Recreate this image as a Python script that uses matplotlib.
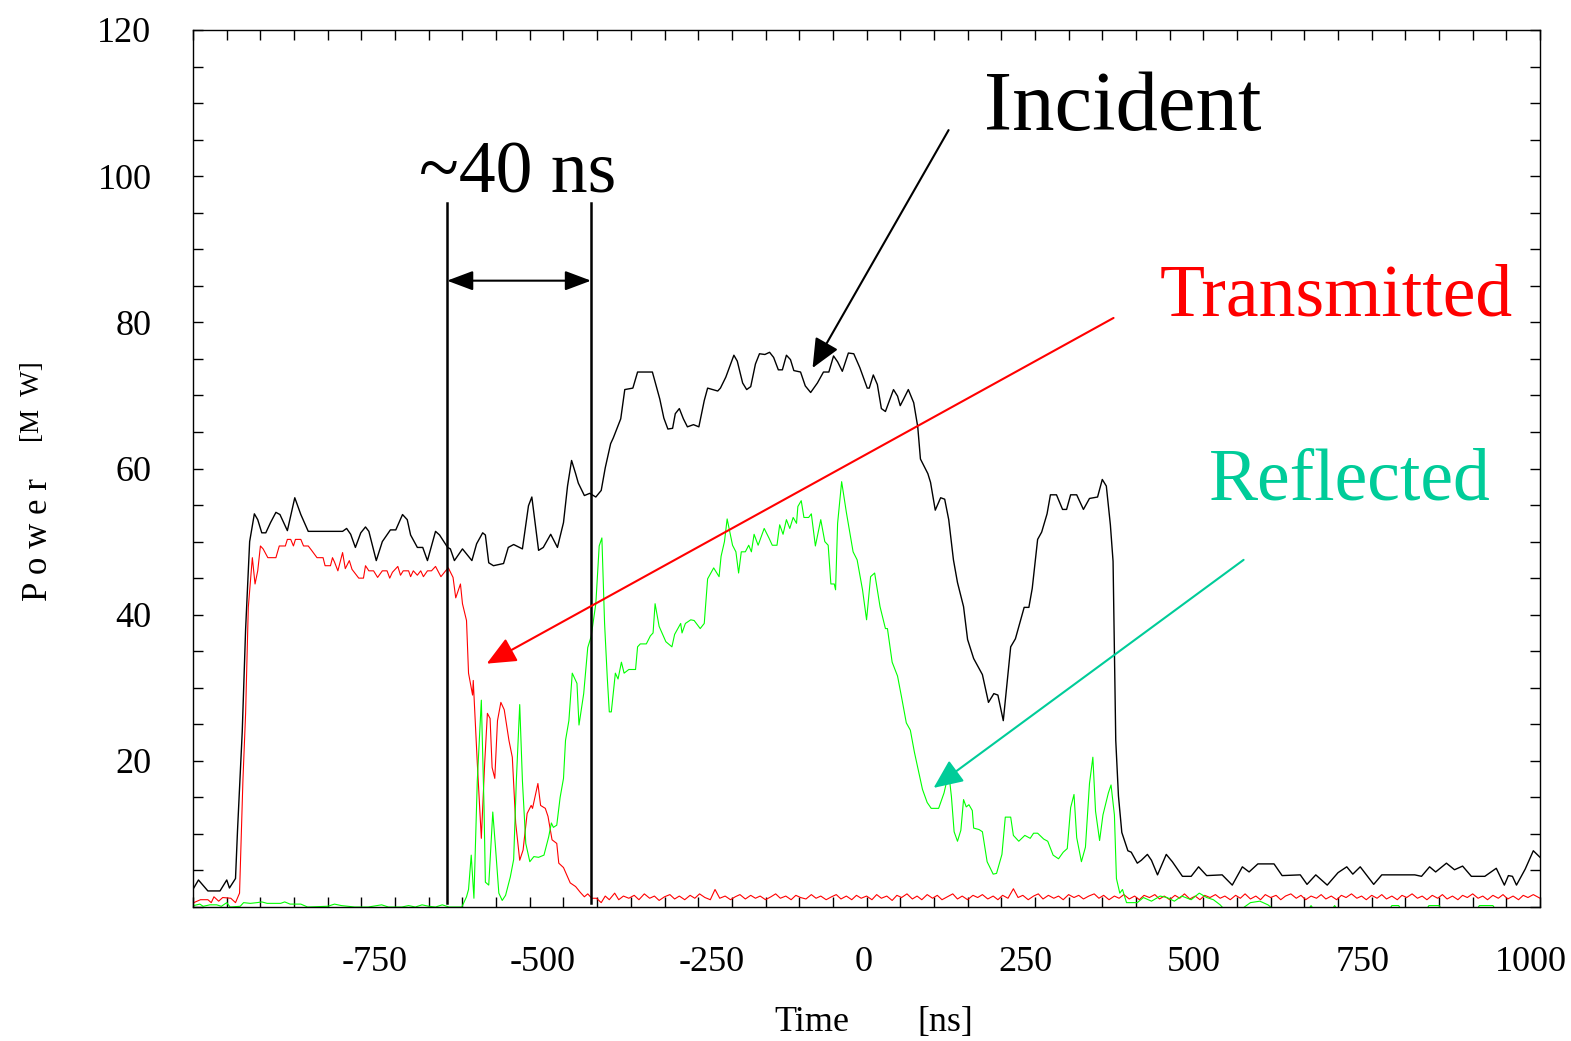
import matplotlib.pyplot as plt
from matplotlib.ticker import MultipleLocator
from matplotlib.transforms import ScaledTranslation

plt.rcParams['font.family'] = ['Liberation Serif', 'DejaVu Serif']
plt.rcParams['axes.unicode_minus'] = False

# (time [ns], power [MW]) vertices of each trace
incident = [
    (-999, 2.6), (-992, 3.7), (-978, 2.2), (-960, 2.2), (-950, 3.7), (-946, 2.6), (-937, 3.9),
    (-934, 10.5), (-927, 24), (-922, 38), (-916, 50), (-909, 53.8), (-904, 53), (-898, 51.2),
    (-892, 51.2), (-885, 52.6), (-877, 54), (-871, 53.7), (-860, 51.5), (-849, 56), (-840, 53.7),
    (-829, 51.4), (-778, 51.4), (-772, 51.8), (-766, 51), (-759, 49.2), (-751, 51.2), (-744, 52),
    (-739, 51.4), (-728, 47.4), (-719, 50), (-707, 51.6), (-699, 51.6), (-689, 53.7), (-682, 53),
    (-677, 50.9), (-667, 49.2), (-659, 49.2), (-652, 47.4), (-640, 51.4), (-634, 50.9), (-622, 49.2),
    (-618, 49), (-612, 47.4), (-600, 49), (-586, 47.4), (-579, 49.7), (-570, 51.2), (-566, 50.9),
    (-561, 47.1), (-554, 46.7), (-539, 47), (-532, 49.2), (-524, 49.6), (-511, 49), (-502, 54.9),
    (-497, 56.1), (-487, 48.8), (-480, 49.2), (-469, 51), (-459, 49.2), (-450, 52.6), (-444, 57.6),
    (-438, 61.1), (-432, 59.3), (-428, 58), (-419, 56.3), (-411, 56.6), (-402, 56.1), (-394, 57),
    (-388, 60.1), (-380, 63.4), (-376, 64.2), (-365, 66.8), (-359, 70.8), (-347, 71), (-340, 73.2),
    (-318, 73.2), (-307, 69.5), (-301, 66.9), (-295, 65.4), (-288, 65.5), (-284, 67.5), (-278, 68.2),
    (-272, 66.8), (-266, 65.7), (-257, 66), (-249, 65.7), (-241, 69.3), (-236, 71), (-221, 70.6),
    (-217, 71), (-209, 72.5), (-197, 75.5), (-192, 74.7), (-184, 71.7), (-178, 70.8), (-172, 71.2),
    (-165, 74.3), (-159, 75.7), (-151, 75.6), (-144, 75.9), (-138, 75.2), (-131, 73.5), (-125, 73.5),
    (-119, 75.5), (-113, 74.9), (-108, 73.4), (-98, 73.2), (-91, 71.3), (-83, 70.4), (-73, 71.7),
    (-64, 73.2), (-56, 73.2), (-49, 75.4), (-43, 74.6), (-36, 73.3), (-27, 75.8), (-19, 75.7),
    (-10, 73.8), (1, 71), (4, 71), (10, 72.8), (16, 71.5), (22, 68.2), (28, 67.8), (40, 70.8),
    (46, 69.9), (50, 68.6), (55, 69.5), (62, 70.8), (70, 69), (76, 65.7), (80, 61.3), (91, 59.3),
    (95, 58.1), (102, 54.3), (110, 56), (116, 55.8), (122, 53), (129, 47.5), (135, 44.4), (144, 41.1),
    (150, 36.6), (159, 34), (172, 31.8), (181, 28), (189, 29.2), (195, 29), (203, 25.5), (214, 35.6),
    (221, 36.7), (228, 39), (234, 41), (241, 41), (246, 43.6), (254, 50.3), (260, 51.3), (268, 53.8),
    (273, 56.4), (282, 56.4), (291, 54.4), (297, 54.4), (303, 56.4), (312, 56.4), (322, 54.4),
    (331, 55.9), (343, 56.1), (350, 58.5), (356, 57.6), (362, 52.3), (366, 47.3), (368, 35.5),
    (370, 22.8), (374, 15.2), (379, 10.2), (388, 7.7), (393, 7.5), (402, 6), (408, 6.4), (417, 7.2),
    (423, 6.4), (432, 4.4), (445, 7.2), (454, 6.2), (469, 4.2), (482, 4.2), (493, 5.5), (505, 4.3),
    (528, 4.4), (543, 3), (558, 5.5), (568, 4.8), (581, 5.9), (605, 5.9), (617, 4.3), (644, 4.4),
    (654, 3.1), (667, 4.4), (684, 3), (700, 4.7), (713, 5.5), (722, 4.5), (733, 5.5), (753, 3.1),
    (765, 4.4), (814, 4.4), (824, 4.2), (836, 5.5), (845, 4.8), (861, 6), (873, 5.1), (885, 5.6),
    (898, 4.2), (918, 4.2), (935, 5.3), (947, 3), (953, 4.3), (959, 4.2), (965, 3), (978, 5.2),
    (990, 7.7), (1000, 6.8),
]

transmitted = [
    (-999, 0.6), (-989, 1.0), (-978, 1.0), (-973, 0.6), (-969, 1.4), (-962, 0.8), (-956, 1.3),
    (-944, 1.2), (-937, 0.6), (-931, 1.9), (-926, 17.3), (-922, 26.5), (-918, 41), (-912, 47.8),
    (-908, 44.2), (-904, 46), (-900, 49.4), (-896, 49), (-889, 47.8), (-877, 47.8), (-872, 49.4),
    (-863, 49.4), (-860, 50.3), (-855, 50.3), (-851, 49.4), (-848, 50.3), (-840, 50.3), (-836, 49.4),
    (-829, 49.4), (-824, 48.8), (-816, 47.8), (-807, 47.8), (-804, 46.7), (-796, 46.7), (-793, 47.8),
    (-790, 47.2), (-785, 46), (-781, 47.4), (-778, 48.5), (-774, 46.3), (-768, 47.4), (-764, 46.2),
    (-754, 45), (-747, 45), (-744, 46.7), (-739, 46), (-732, 46), (-726, 45.1), (-719, 46),
    (-712, 46), (-708, 45), (-704, 45.8), (-696, 46.6), (-692, 45.4), (-688, 46), (-680, 46),
    (-677, 45.2), (-673, 46), (-667, 45.4), (-662, 46), (-658, 45.2), (-652, 46), (-646, 46),
    (-640, 46.6), (-636, 45.9), (-632, 45.2), (-625, 46), (-621, 46.4), (-614, 45.1), (-610, 42.3),
    (-603, 44.2), (-600, 41.5), (-594, 39.2), (-591, 32), (-585, 29), (-584, 31), (-578, 19.7),
    (-572, 9.4), (-567, 19.7), (-563, 26.5), (-559, 25.8), (-556, 19.1), (-552, 17.6), (-548, 25.5),
    (-543, 28), (-538, 27), (-531, 22.8), (-526, 20.5), (-521, 11.5), (-515, 6.4), (-510, 7.8),
    (-504, 12.8), (-498, 13.9), (-496, 13.5), (-488, 16.9), (-484, 13.9), (-477, 13.5), (-473, 12.4),
    (-467, 9.2), (-460, 8.7), (-457, 6), (-450, 5.4), (-440, 3.3), (-432, 2.8), (-425, 2),
    (-419, 1.4), (-414, 1.8), (-408, 1.2), (-401, 1.2), (-394, 0.6), (-388, 1.5), (-382, 1.0),
    (-374, 1.9), (-368, 1.0), (-361, 1.5), (-353, 1.2), (-345, 1.6), (-338, 1.0), (-330, 1.8),
    (-322, 1.2), (-315, 1.5), (-308, 0.9), (-300, 1.4), (-292, 1.7), (-285, 1.1), (-278, 1.5),
    (-270, 1.0), (-262, 1.6), (-255, 1.2), (-248, 1.8), (-240, 1.3), (-232, 1.0), (-225, 2.4),
    (-218, 1.2), (-210, 1.5), (-202, 1.0), (-195, 1.4), (-188, 1.7), (-180, 1.1), (-172, 1.6),
    (-165, 1.2), (-158, 1.5), (-150, 1.0), (-142, 1.4), (-135, 1.8), (-128, 1.2), (-120, 1.5),
    (-112, 1.0), (-105, 1.6), (-98, 1.3), (-90, 1.1), (-82, 1.7), (-75, 1.2), (-68, 1.5), (-60, 1.0),
    (-52, 1.4), (-45, 1.7), (-38, 1.1), (-30, 1.5), (-22, 1.0), (-15, 1.6), (-8, 1.2), (0, 1.5),
    (8, 1.0), (15, 1.7), (22, 1.2), (30, 1.5), (38, 0.9), (45, 1.6), (52, 1.3), (60, 1.8), (68, 1.1),
    (75, 1.5), (82, 1.0), (90, 1.7), (98, 1.2), (105, 1.6), (112, 1.0), (120, 1.4), (128, 1.8),
    (135, 1.1), (142, 1.5), (150, 1.0), (158, 1.6), (165, 1.3), (172, 1.7), (180, 1.1), (188, 1.5),
    (195, 1.0), (202, 1.6), (210, 1.2), (218, 2.5), (225, 1.3), (232, 1.6), (240, 1.0), (248, 1.5),
    (255, 1.8), (262, 1.1), (270, 1.6), (278, 1.2), (285, 1.5), (292, 1.0), (300, 1.7), (308, 1.3),
    (315, 1.6), (322, 1.1), (330, 1.5), (338, 1.8), (345, 1.2), (352, 1.6), (360, 1.0), (368, 1.5),
    (375, 1.2), (382, 1.7), (390, 1.1), (398, 1.5), (405, 1.0), (412, 1.6), (420, 1.3), (428, 1.7),
    (435, 1.1), (442, 1.5), (450, 1.0), (458, 1.6), (465, 1.2), (472, 1.8), (480, 1.1), (488, 1.5),
    (495, 1.0), (502, 1.6), (510, 1.3), (518, 1.7), (525, 1.2), (532, 1.5), (540, 1.0), (548, 1.6),
    (555, 1.2), (562, 1.8), (570, 1.1), (578, 1.5), (585, 1.0), (592, 1.7), (600, 1.3), (608, 1.6),
    (615, 1.0), (622, 1.5), (630, 1.8), (638, 1.2), (645, 1.6), (652, 1.0), (660, 1.5), (668, 1.2),
    (675, 1.7), (682, 1.1), (690, 1.5), (698, 1.0), (705, 1.6), (712, 1.3), (720, 1.8), (728, 1.2),
    (735, 1.5), (742, 1.0), (750, 1.6), (758, 1.2), (765, 1.7), (772, 1.1), (780, 1.5), (788, 1.0),
    (795, 1.6), (802, 1.3), (810, 1.8), (818, 1.2), (825, 1.5), (832, 1.0), (840, 1.6), (848, 1.2),
    (855, 1.7), (862, 1.1), (870, 1.5), (878, 1.0), (885, 1.6), (892, 1.3), (900, 1.8), (908, 1.2),
    (915, 1.5), (922, 1.0), (930, 1.6), (938, 1.2), (945, 1.7), (952, 1.1), (960, 1.5), (968, 1.0),
    (975, 1.6), (982, 1.3), (990, 1.7), (1000, 1.2),
]

reflected = [
    (-999, 0.2), (-990, 0.4), (-985, 0.1), (-975, 0.3), (-965, 0.3), (-958, 0.1), (-950, 0.6),
    (-945, 0.0), (-930, 0.1), (-925, 0.6), (-915, 0.5), (-905, 0.6), (-898, 0.7), (-890, 0.5),
    (-870, 0.5), (-864, 0.7), (-856, 0.4), (-840, 0.4), (-830, 0.0), (-800, 0.1), (-790, 0.4),
    (-780, 0.2), (-760, 0.0), (-740, 0.0), (-720, 0.3), (-710, 0.0), (-690, 0.0), (-680, 0.2),
    (-670, 0.0), (-660, 0.3), (-650, 0.1), (-640, 0.0), (-630, 0.3), (-620, 0.0), (-601, 0.0),
    (-594, 1.4), (-591, 2.4), (-587, 7.1), (-583, 1.2), (-578, 17.3), (-572, 28.3), (-568, 13.7),
    (-566, 3.4), (-561, 3.0), (-555, 13), (-551, 8.2), (-546, 1.9), (-541, 0.9), (-536, 1.6),
    (-529, 4.1), (-524, 6.5), (-520, 17.3), (-515, 27.7), (-511, 17.3), (-506, 8.7), (-500, 6.2),
    (-494, 6.9), (-487, 6.8), (-479, 7.1), (-472, 9.6), (-468, 11.5), (-465, 10.9), (-460, 11.2),
    (-455, 15), (-450, 17.6), (-447, 22.8), (-442, 25.5), (-437, 32), (-430, 30.6), (-427, 24.9),
    (-420, 29.2), (-414, 35.5), (-409, 37), (-402, 41.5), (-397, 49.4), (-393, 50.5), (-389, 38.8),
    (-385, 31.4), (-382, 26.7), (-379, 26.7), (-373, 32), (-369, 31.2), (-364, 33.5), (-360, 32),
    (-353, 32.5), (-343, 32.5), (-340, 35.6), (-336, 36), (-327, 36), (-321, 37.1), (-317, 37.5),
    (-314, 41.5), (-308, 38.4), (-298, 36.3), (-289, 35.6), (-285, 37.3), (-279, 38.3), (-276, 38.8),
    (-274, 37.5), (-269, 38.8), (-261, 39.3), (-256, 39.2), (-247, 38.1), (-241, 38.8), (-236, 44.9),
    (-227, 46.4), (-219, 45.2), (-216, 48), (-211, 50), (-207, 53.1), (-199, 49.5), (-194, 48.6),
    (-190, 45.7), (-186, 48.6), (-180, 48.6), (-175, 49.5), (-171, 48.6), (-167, 51), (-161, 49.5),
    (-152, 51.8), (-145, 50.5), (-140, 49.5), (-133, 49.5), (-129, 52.3), (-124, 51), (-119, 53),
    (-114, 51.8), (-109, 53.3), (-104, 52.5), (-102, 54.8), (-97, 55.6), (-93, 53.3), (-86, 53.3),
    (-82, 53.8), (-76, 49.4), (-68, 53), (-62, 50), (-57, 49.5), (-53, 44.2), (-48, 44.2),
    (-46, 43.4), (-43, 52.5), (-37, 58.2), (-30, 54), (-20, 48.6), (-14, 47.5), (-6, 43.4), (0, 39.3),
    (6, 45.2), (12, 45.7), (20, 41.1), (28, 38.1), (31, 38.1), (38, 33.5), (46, 31.6), (52, 28.7),
    (59, 25.2), (65, 24.2), (71, 21.2), (78, 18.2), (83, 16.1), (90, 14.3), (96, 13.5), (107, 13.5),
    (115, 15.6), (122, 18.4), (126, 15.1), (130, 10.3), (135, 9), (140, 10.5), (144, 14.7),
    (148, 13.7), (152, 14), (157, 13.2), (159, 10.8), (167, 10.6), (172, 10.3), (179, 6.2), (188, 4.5),
    (193, 4.6), (201, 7.2), (206, 12.3), (214, 12.3), (218, 9.8), (226, 9), (235, 9.8), (243, 9.4),
    (248, 10.1), (254, 10.1), (263, 9.3), (269, 9), (277, 7.1), (285, 6.6), (292, 7.5), (298, 8),
    (303, 13.6), (308, 15.4), (312, 9.5), (319, 6.2), (325, 8.2), (331, 16.9), (336, 20.5),
    (340, 13.1), (346, 9.1), (351, 12.6), (359, 15.6), (363, 16.7), (368, 12.6), (371, 3.9),
    (376, 1.9), (380, 2.4), (386, 0.6), (402, 0.6), (411, 1.3), (423, 0.8), (436, 1.5), (446, 1.3),
    (457, 0.8), (468, 1.5), (482, 1.0), (494, 1.9), (505, 1.3), (515, 1.0), (525, 0.3), (533, -0.5),
    (555, -0.5), (561, 0.0), (570, 0.6), (584, 0.8), (596, 0.3), (607, -0.5), (655, -0.5),
    (660, 0.2), (665, -0.5), (690, -0.5), (695, 0.2), (700, -0.5), (775, -0.5), (780, 0.2),
    (790, 0.2), (795, -0.5), (830, -0.5), (835, 0.2), (850, 0.2), (855, -0.5), (905, -0.5),
    (910, 0.2), (930, 0.2), (935, -0.5), (1000, -0.5),
]

x_ticks = [-750, -500, -250, 0, 250, 500, 750, 1000]
y_ticks = [20, 40, 60, 80, 100, 120]

# pulse-width markers
marker_t = [-622.9, -409.1]

fig = plt.figure(figsize=(15.71, 10.41), dpi=100)
ax = fig.add_axes([0.1229, 0.1287, 0.8574, 0.8425])

for trace, col, lw in [(transmitted, '#ff0000', 0.8), (reflected, '#00ff00', 0.8),
                       (incident, 'black', 1.0)]:
    t, p = zip(*trace)
    ax.plot(t, p, color=col, lw=lw)

ax.set_xlim(-1000, 1000)
ax.set_ylim(0, 120)
ax.set_xticks(x_ticks)
ax.set_yticks(y_ticks)
ax.xaxis.set_minor_locator(MultipleLocator(50))
ax.yaxis.set_minor_locator(MultipleLocator(5))
ax.tick_params(which='both', direction='in', top=True, right=True, length=7, width=1)
ax.tick_params(axis='both', labelsize=26)
ax.tick_params(axis='x', pad=28)
ax.tick_params(axis='y', pad=30)
for s in ax.spines.values():
    s.set_linewidth(1.0)

# nudge x tick labels sideways a little
for val, lab in zip(x_ticks, ax.get_xticklabels()):
    dx = 13 if val < 0 else (-3 if val == 0 else -9)
    lab.set_transform(lab.get_transform() + ScaledTranslation(dx / 100, 0, fig.dpi_scale_trans))

# pulse width bracket
for xm in marker_t:
    ax.plot([xm, xm], [0.5, 96.3], color='black', lw=1.8)
ax.annotate('', xy=(marker_t[0], 85.7), xytext=(marker_t[1], 85.7),
            arrowprops=dict(arrowstyle='<|-|>,head_length=0.8,head_width=0.3',
                            mutation_scale=20, color='black', lw=1.5,
                            shrinkA=0, shrinkB=0))
ax.text(-518, 97.8, '~40 ns', ha='center', va='baseline', size=53)

ax.text(380, 106.3, 'Incident', ha='center', va='baseline', size=61)
ax.annotate('', xy=(-80.2, 73.75), xytext=(121.8, 106.3),
            arrowprops=dict(arrowstyle='-|>,head_length=0.9,head_width=0.4',
                            mutation_scale=20, color='black', lw=1.5,
                            shrinkA=0, shrinkB=0))

ax.text(698, 80.9, 'Transmitted', ha='center', va='baseline', size=53, color='#ff0000')
ax.annotate('', xy=(-564, 33.3), xytext=(366.7, 80.6),
            arrowprops=dict(arrowstyle='-|>,head_length=0.9,head_width=0.4',
                            mutation_scale=20, color='#ff0000', lw=1.5,
                            shrinkA=0, shrinkB=0))

teal = '#00cc99'
ax.text(717, 55.7, 'Reflected', ha='center', va='baseline', size=53, color=teal)
ax.annotate('', xy=(99.5, 16.3), xytext=(559.8, 47.5),
            arrowprops=dict(arrowstyle='-|>,head_length=0.9,head_width=0.4',
                            mutation_scale=20, color=teal, lw=1.5,
                            shrinkA=0, shrinkB=0))

# axis titles
fig.text(812 / 1571, 1 - 1031 / 1041, 'Time', ha='center', va='baseline', size=26)
fig.text(945 / 1571, 1 - 1031 / 1041, '[ns]', ha='center', va='baseline', size=26)
fig.text(47 / 1571, 1 - 540 / 1041, 'P o w e r', rotation=90, rotation_mode='anchor',
         ha='center', va='baseline', size=25)
fig.text(39 / 1571, 1 - 402 / 1041, '[M  W]', rotation=90, rotation_mode='anchor',
         ha='center', va='baseline', size=19.5)

fig.savefig('out.png', dpi=100)
